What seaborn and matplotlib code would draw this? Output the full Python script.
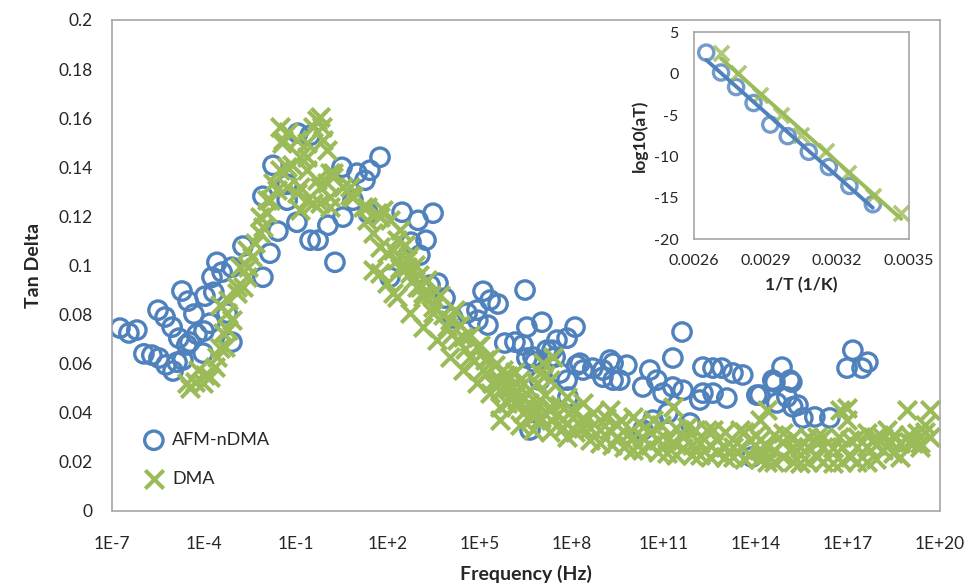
import numpy as np
import pandas as pd
import matplotlib
matplotlib.use("Agg")
import matplotlib.pyplot as plt
import matplotlib.ticker as mticker
import seaborn as sns

BLUE = "#4F81BD"
GREEN = "#9BBB59"
EDGE = "#A6A6A6"

# main chart: log10(frequency / Hz) and tan delta
afm_logf = [
    -6.74, -6.45, -6.19, -5.96, -5.70, -5.47, -5.24, -5.01, -5.50, -5.27,
    -5.04, -4.82, -4.56, -4.72, -4.52, -4.33, -4.69, -4.46, -4.23, -4.00,
    -3.81, -3.97, -3.68, -3.41, -3.58, -3.74, -3.09, -2.73, -3.25, -4.03,
    -4.88, -3.09, -2.08, -1.85, -1.59, -2.08, -1.75, -1.29, -1.29, -0.97,
    -0.94, -0.54, -0.54, -0.28, 0.04, 0.27, 0.50, 0.53, 0.99, 1.25,
    1.41, 1.74, 0.86, 1.35, 2.46, 2.98, 3.47, 2.75, 3.24, 3.04,
    2.06, 3.37, 3.63, 3.86, 4.12, 4.58, 4.90, 5.10, 5.33, 5.59,
    5.26, 4.93, 5.81, 6.14, 6.40, 6.53, 6.53, 6.47, 6.63, 6.73,
    7.18, 7.51, 7.02, 6.79, 7.35, 7.84, 8.10, 8.16, 8.36, 8.68,
    9.01, 9.34, 9.79, 7.84, 7.61, 9.34, 9.56, 7.87, 7.45, 8.26,
    9.24, 9.01, 10.54, 10.31, 10.77, 10.97, 11.29, 11.59, 11.29, 10.64,
    10.31, 11.85, 12.17, 12.27, 12.60, 12.89, 13.25, 13.57, 12.27, 12.60,
    13.05, 14.03, 14.55, 14.85, 15.11, 15.01, 15.20, 15.53, 15.92, 16.41,
    17.16, 16.97, 17.46, 17.65, 13.87, 14.62, 15.17, 14.13, 14.68, 15.37,
    11.13, 11.62, 6.95,
]
afm_tan = [
    0.0745, 0.0725, 0.0737, 0.0640, 0.0635, 0.0623, 0.0595, 0.0570, 0.0818, 0.0790,
    0.0749, 0.0704, 0.0676, 0.0896, 0.0855, 0.0802, 0.0615, 0.0688, 0.0720, 0.0733,
    0.0765, 0.0875, 0.0891, 0.0973, 0.1013, 0.0952, 0.0993, 0.1079, 0.0806, 0.0643,
    0.0606, 0.0688, 0.0952, 0.1050, 0.1140, 0.1282, 0.1408, 0.1331, 0.1266, 0.1176,
    0.1539, 0.1530, 0.1103, 0.1103, 0.1164, 0.1013, 0.1400, 0.1197, 0.1376, 0.1347,
    0.1388, 0.1441, 0.1266, 0.1213, 0.1217, 0.1184, 0.1213, 0.1095, 0.1103, 0.1042,
    0.0952, 0.0920, 0.0928, 0.0867, 0.0786, 0.0806, 0.0818, 0.0895, 0.0859, 0.0843,
    0.0757, 0.0777, 0.0684, 0.0688, 0.0676, 0.0749, 0.0623, 0.0900, 0.0330, 0.0627,
    0.0655, 0.0696, 0.0769, 0.0606, 0.0655, 0.0704, 0.0749, 0.0594, 0.0574, 0.0582,
    0.0574, 0.0602, 0.0594, 0.0533, 0.0562, 0.0533, 0.0533, 0.0464, 0.0627, 0.0602,
    0.0615, 0.0545, 0.0574, 0.0505, 0.0533, 0.0480, 0.0505, 0.0729, 0.0623, 0.0370,
    0.0330, 0.0358, 0.0452, 0.0586, 0.0582, 0.0582, 0.0562, 0.0554, 0.0480, 0.0480,
    0.0460, 0.0472, 0.0533, 0.0586, 0.0533, 0.0464, 0.0424, 0.0379, 0.0383, 0.0379,
    0.0655, 0.0582, 0.0582, 0.0606, 0.0220, 0.0525, 0.0525, 0.0472, 0.0440, 0.0431,
    0.0399, 0.0492, 0.0533,
]

dma_logf = [
    # rising side
    -4.56, -4.29, -4.03, -4.46, -3.81, -3.64, -3.58, -3.48, -3.32, -3.38,
    -3.22, -3.09, -3.25, -3.48, -3.22, -2.93, -2.73, -2.60, -2.57, -2.44,
    -2.34, -2.18, -2.08, -1.95, -1.85, -1.62, -1.29, -0.97, -0.64, -0.22,
    0.11, -1.52, -1.46, -1.26, -0.97, -0.64, -0.32, -0.15, -0.12, -0.87,
    -1.13, -0.64, -0.32, 0.01, 0.21, -1.75, -0.87, -0.45, 0.11, -2.18,
    -1.52, -1.43, -0.22, -0.45, 0.01, -1.29, -0.64, -0.87, -0.22, 0.21,
    0.53, 0.86, 1.18, 1.64, 1.84, 2.06, 1.31, 1.51, 1.74, 1.97,
    2.29, 2.49, 2.72, 2.94, 3.14, 1.74, 1.97, 2.16, -1.95, -2.60,
    -2.83, -2.93, -4.20, -3.97,
    # falling side
    0.76, 2.29, 2.62, 2.81, 3.14, 3.47, 3.92, 4.25, 4.67, 5.10,
    5.55, 5.98, 6.40, 6.86, 7.28,
    1.51, 2.29, 2.72, 3.14, 3.60, 4.02, 4.44, 4.90, 5.33, 5.88,
    6.40, 6.95,
    0.11, 0.76, 1.31, 1.74, 2.16, 2.62, 3.04, 3.47, 4.02, 4.44,
    4.90, 5.33, 5.75, 6.30, 6.86, 7.28, 7.38,
    2.39, 2.55, 2.88, 3.27, 3.69, 4.18, 4.35, 4.67, 5.00, 5.16,
    5.49, 5.81, 6.14, 5.65, 6.14, 6.63, 7.12, 7.12,
    4.5, 4.8, 5.2, 5.4, 5.7, 6.0, 6.2, 6.5, 6.8, 7.0,
    7.3, 7.5, 7.7, 8.1, 5.9, 6.6, 7.9, 3.8, 4.1, 3.4,
    3.0, 2.7, 2.4,
    # high frequency tail
    5.65, 6.30, 7.05, 6.95, 7.84, 8.36, 9.24, 9.99, 10.64, 11.29,
    11.75, 12.60, 13.48, 14.13, 14.36, 14.88, 15.99, 16.74, 16.97, 17.62,
    18.27, 18.92, 19.25,
    5.65, 6.73, 7.84, 8.91, 9.99, 11.10, 12.17, 13.25, 14.36, 15.43,
    16.51, 17.62, 18.70, 19.35,
    5.65, 6.73, 7.84, 8.91, 9.99, 11.10, 12.17, 13.25, 14.36, 15.43,
    16.51, 17.62, 18.47, 19.12, 19.35,
    6.21, 7.28, 8.36, 9.47, 10.54, 11.62, 12.73, 13.80, 14.88, 15.99,
    17.07, 18.14, 8.36, 9.47, 10.54, 11.62, 12.73, 13.80, 14.88, 15.99,
    17.07, 18.14, 6.30, 7.28, 19.67, 19.67, 19.51, 16.97, 14.13, 15.11,
    7.6, 8.0, 8.7, 9.1, 9.6, 10.2, 10.9, 11.4, 12.0, 12.4,
    13.0, 13.6, 14.0, 14.6, 15.2, 15.7, 16.2, 16.7, 17.3, 17.9,
    18.5, 19.0, 19.5,
    8.2, 8.6, 9.2, 9.8, 10.3, 10.8, 11.3, 11.9, 12.5, 13.0,
    13.5, 14.1, 14.6, 15.2, 15.7, 16.2, 16.8, 17.3, 17.9, 18.4,
    19.0,
    8.6, 9.3, 9.7, 10.3, 10.8, 11.4, 11.9, 12.5, 13.0, 13.6,
    14.1, 14.6, 15.2, 15.7, 16.2, 16.8, 17.3, 17.9, 18.7,
]
dma_tan = [
    # rising side
    0.0521, 0.0525, 0.0521, 0.0501, 0.0545, 0.0586, 0.0627, 0.0663, 0.0667, 0.0724,
    0.0737, 0.0777, 0.0806, 0.0838, 0.0859, 0.0887, 0.0912, 0.0952, 0.0993, 0.1034,
    0.1091, 0.1131, 0.1156, 0.1213, 0.1266, 0.1306, 0.1319, 0.1294, 0.1266, 0.1254,
    0.1278, 0.1388, 0.1498, 0.1543, 0.1510, 0.1498, 0.1591, 0.1563, 0.1510, 0.1441,
    0.1408, 0.1388, 0.1347, 0.1335, 0.1359, 0.1335, 0.1225, 0.1254, 0.1237, 0.1197,
    0.1563, 0.1510, 0.1604, 0.1563, 0.1469, 0.1400, 0.1441, 0.1319, 0.1319, 0.1376,
    0.1319, 0.1278, 0.1237, 0.1213, 0.1225, 0.1184, 0.1184, 0.1131, 0.1074, 0.1050,
    0.1022, 0.0993, 0.0969, 0.0912, 0.0887, 0.0969, 0.0928, 0.0887, 0.1266, 0.1062,
    0.0993, 0.0912, 0.0574, 0.0554,
    # falling side
    0.1286, 0.1103, 0.1022, 0.0940, 0.0871, 0.0806, 0.0749, 0.0696, 0.0627, 0.0574,
    0.0533, 0.0505, 0.0464, 0.0440, 0.0423,
    0.0981, 0.0871, 0.0806, 0.0749, 0.0696, 0.0627, 0.0574, 0.0521, 0.0480, 0.0440,
    0.0399, 0.0370,
    0.1376, 0.1319, 0.1237, 0.1197, 0.1062, 0.0993, 0.0912, 0.0830, 0.0777, 0.0708,
    0.0667, 0.0627, 0.0574, 0.0533, 0.0521, 0.0533, 0.0627,
    0.1144, 0.1083, 0.1001, 0.0940, 0.0879, 0.0818, 0.0757, 0.0716, 0.0676, 0.0615,
    0.0594, 0.0554, 0.0566, 0.0492, 0.0472, 0.0492, 0.0472, 0.0554,
    0.066, 0.061, 0.056, 0.052, 0.049, 0.047, 0.043, 0.041, 0.041, 0.038,
    0.037, 0.039, 0.034, 0.032, 0.055, 0.044, 0.040, 0.080, 0.072, 0.088,
    0.096, 0.104, 0.099,
    # high frequency tail
    0.0533, 0.0505, 0.0602, 0.0562, 0.0464, 0.0440, 0.0411, 0.0383, 0.0370, 0.0423,
    0.0342, 0.0330, 0.0330, 0.0370, 0.0411, 0.0317, 0.0301, 0.0411, 0.0370, 0.0317,
    0.0330, 0.0411, 0.0317,
    0.0423, 0.0383, 0.0358, 0.0330, 0.0301, 0.0289, 0.0277, 0.0260, 0.0260, 0.0260,
    0.0256, 0.0260, 0.0277, 0.0277,
    0.0370, 0.0330, 0.0301, 0.0277, 0.0248, 0.0236, 0.0228, 0.0220, 0.0199, 0.0195,
    0.0195, 0.0199, 0.0236, 0.0277, 0.0260,
    0.0452, 0.0411, 0.0379, 0.0350, 0.0322, 0.0301, 0.0289, 0.0289, 0.0281, 0.0277,
    0.0289, 0.0297, 0.0338, 0.0301, 0.0269, 0.0256, 0.0240, 0.0228, 0.0220, 0.0220,
    0.0220, 0.0248, 0.0350, 0.0322, 0.0411, 0.0301, 0.0350, 0.0419, 0.0289, 0.0248,
    0.043, 0.041, 0.040, 0.038, 0.037, 0.036, 0.035, 0.034, 0.033, 0.033,
    0.032, 0.032, 0.031, 0.031, 0.030, 0.030, 0.030, 0.030, 0.030, 0.030,
    0.031, 0.031, 0.032,
    0.036, 0.034, 0.033, 0.031, 0.030, 0.029, 0.028, 0.027, 0.027, 0.026,
    0.026, 0.025, 0.025, 0.026, 0.026, 0.026, 0.026, 0.026, 0.027, 0.028,
    0.028,
    0.029, 0.027, 0.026, 0.025, 0.024, 0.023, 0.023, 0.022, 0.022, 0.021,
    0.021, 0.020, 0.020, 0.020, 0.020, 0.020, 0.020, 0.021, 0.022,
]

# inset: shift factors
afm_invT = [0.002652, 0.002714, 0.002777, 0.002850, 0.002920,
            0.002993, 0.003081, 0.003165, 0.003251, 0.003349]
afm_logaT = [2.55, 0.14, -1.62, -3.55, -6.16, -7.56, -9.45, -11.29, -13.58, -15.79]
dma_invT = [0.002714, 0.002784, 0.002879, 0.002966, 0.003049,
            0.003154, 0.003244, 0.003349, 0.003468]
dma_logaT = [2.47, 0.06, -2.54, -4.95, -7.36, -9.37, -11.97, -14.78, -16.91]

assert len(afm_logf) == len(afm_tan)
assert len(dma_logf) == len(dma_tan)

afm = pd.DataFrame({"freq": 10.0 ** np.array(afm_logf), "tan": afm_tan})
dma = pd.DataFrame({"freq": 10.0 ** np.array(dma_logf), "tan": dma_tan})

sns.set_style("white")
plt.rcParams["font.family"] = ["Lato", "DejaVu Sans"]
plt.rcParams["axes.unicode_minus"] = False

fig = plt.figure(figsize=(9.69, 5.88), dpi=100)
ax = fig.add_axes([0.1156, 0.131, 0.8544, 0.835])

sns.scatterplot(data=afm, x="freq", y="tan", ax=ax, marker="o", s=175,
                facecolor="none", edgecolor=BLUE, linewidth=2.4, label="AFM-nDMA")
sns.scatterplot(data=dma, x="freq", y="tan", ax=ax, marker="x", s=175,
                color=GREEN, linewidth=2.9, label="DMA")

ax.set_xscale("log")
ax.set_xlim(1e-7, 1e20)
ax.set_ylim(0, 0.2)
ax.xaxis.set_major_locator(mticker.FixedLocator([10.0 ** e for e in range(-7, 21, 3)]))
minor = [k * 10.0 ** e for e in range(-6, 20, 3) for k in range(1, 10)]
ax.xaxis.set_minor_locator(mticker.FixedLocator(minor))
ax.xaxis.set_minor_formatter(mticker.NullFormatter())


def exp_label(v, p):
    e = int(round(np.log10(v)))
    return "1E%+d" % e if e >= 0 else "1E%d" % e


ax.xaxis.set_major_formatter(mticker.FuncFormatter(exp_label))
ax.yaxis.set_major_locator(mticker.MultipleLocator(0.02))
ax.yaxis.set_minor_locator(mticker.MultipleLocator(0.004))
ax.yaxis.set_major_formatter(mticker.FuncFormatter(lambda v, p: "%g" % round(v, 3)))
ax.tick_params(axis="both", which="major", direction="out", length=6, width=1,
               color=EDGE, labelsize=12.5, pad=8)
ax.tick_params(axis="both", which="minor", direction="out", length=3, width=1, color=EDGE)
ax.tick_params(axis="x", which="major", pad=12)
for sp in ax.spines.values():
    sp.set_color(EDGE)
    sp.set_linewidth(1.2)
ax.set_xlabel("Frequency (Hz)", fontsize=14, fontweight="bold", labelpad=9)
ax.set_ylabel("Tan Delta", fontsize=14, fontweight="bold", labelpad=12)

leg = ax.legend(loc="lower left", bbox_to_anchor=(0.02, 0.035), frameon=False,
                fontsize=13, handletextpad=0.0, labelspacing=1.25, borderaxespad=0)

# inset
ins = fig.add_axes([0.716, 0.5935, 0.222, 0.3515])
ins.set_facecolor("white")
sns.regplot(x=afm_invT, y=afm_logaT, ax=ins, ci=None, truncate=True,
            marker="o", scatter_kws=dict(s=120, facecolor="none", edgecolor=BLUE, linewidths=2.4),
            line_kws=dict(color=BLUE, lw=2.8))
sns.regplot(x=dma_invT, y=dma_logaT, ax=ins, ci=None, truncate=True,
            marker="x", scatter_kws=dict(s=120, color=GREEN, linewidths=2.6),
            line_kws=dict(color=GREEN, lw=2.8))
ins.set_xlim(0.0026, 0.0035)
ins.set_ylim(-20, 5)
ins.xaxis.set_major_locator(mticker.FixedLocator([0.0026, 0.0029, 0.0032, 0.0035]))
ins.xaxis.set_minor_locator(mticker.MultipleLocator(0.0001))
ins.xaxis.set_major_formatter(mticker.FuncFormatter(lambda v, p: "%.4f" % v))
ins.yaxis.set_major_locator(mticker.MultipleLocator(5))
ins.yaxis.set_minor_locator(mticker.MultipleLocator(1))
ins.tick_params(axis="both", which="major", direction="out", length=5, width=1,
                color=EDGE, labelsize=11.5, pad=6)
ins.tick_params(axis="both", which="minor", direction="out", length=3, width=1, color=EDGE)
for sp in ins.spines.values():
    sp.set_color(EDGE)
    sp.set_linewidth(1.2)
ins.set_xlabel("1/T (1/K)", fontsize=12.5, fontweight="bold", labelpad=6)
ins.set_ylabel("log10(aT)", fontsize=12.5, fontweight="bold", labelpad=4)

fig.savefig("out.png", dpi=100)
